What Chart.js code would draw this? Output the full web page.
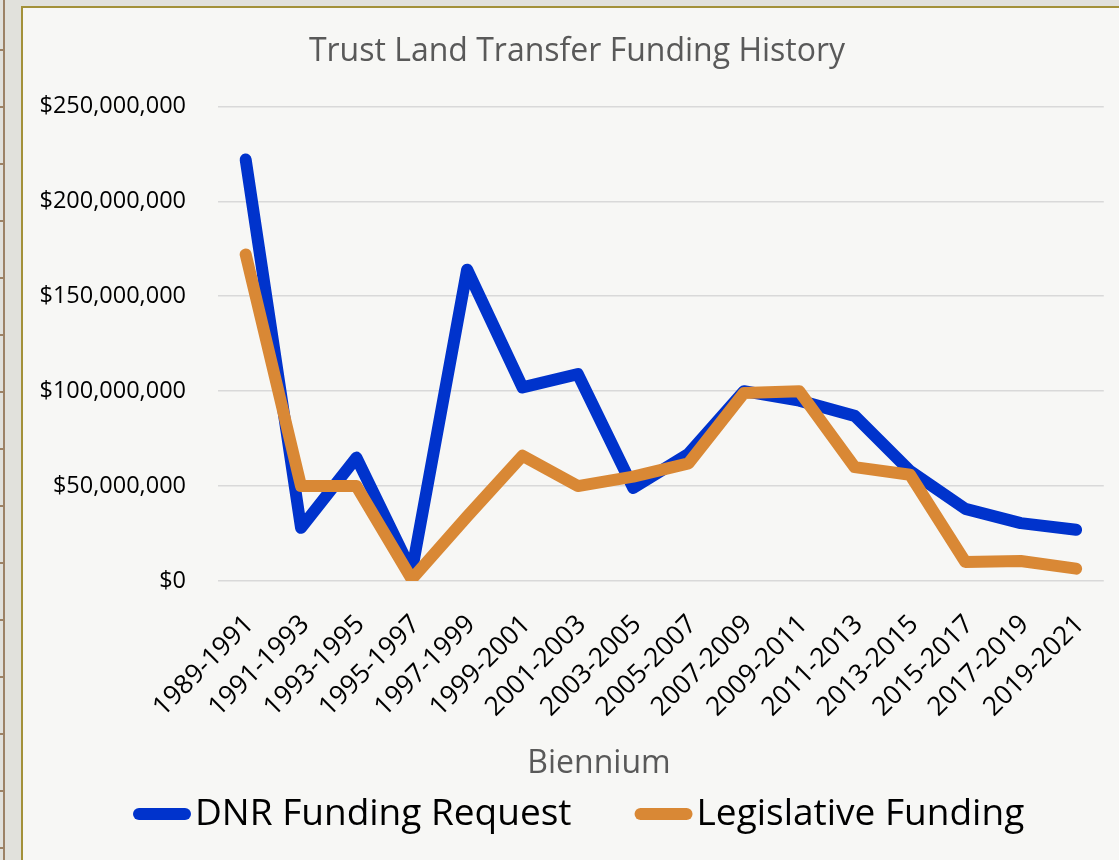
<!DOCTYPE html>
<html>
<head>
<meta charset="utf-8">
<script src="https://cdn.jsdelivr.net/npm/chart.js@4.4.0/dist/chart.umd.min.js"></script>
<style>
html, body { margin: 0; padding: 0; width: 1119px; height: 860px; overflow: hidden; background: #e1e1dc; }
#rule { position: absolute; left: 3px; top: 0; width: 2px; height: 860px; background: #9c8266; }
#ticks { position: absolute; left: 0; top: 0; width: 4px; height: 860px;
  background: repeating-linear-gradient(to bottom, transparent 0 49px, #9c8266 49px 51px, transparent 51px 57px); }
#box { position: absolute; left: 21px; top: 6px; width: 1096px; height: 852px;
  border-left: 2px solid #a39139; border-top: 2px solid #a39139; background: #f7f7f5; }
canvas { display: block; }
</style>
</head>
<body>
<div id="rule"></div>
<div id="ticks"></div>
<div id="box"><canvas id="chart" width="1096" height="852"></canvas></div>
<script>
// biennium labels
const bienniums = ['1989-1991', '1991-1993', '1993-1995', '1995-1997', '1997-1999', '1999-2001',
  '2001-2003', '2003-2005', '2005-2007', '2007-2009', '2009-2011', '2011-2013',
  '2013-2015', '2015-2017', '2017-2019', '2019-2021'];
// dollars
const dnrRequest = [222000000, 28000000, 65000000, 5000000, 164000000, 102000000,
  109000000, 49000000, 67000000, 100000000, 95000000, 87000000,
  58000000, 38000000, 30500000, 27000000];
const legislativeFunding = [172000000, 50000000, 50000000, 1000000, 34000000, 66000000,
  50000000, 55000000, 62000000, 99000000, 100000000, 60000000,
  56000000, 10000000, 10500000, 6500000];
const yTicksMax = 250000000;
const yStep = 50000000;

const FONT = '"Open Sans", "Noto Sans", sans-serif';

// axis title + legend drawn by hand (Excel-style placement)
const bottomLegend = {
    id: 'bottomLegend',
    afterDraw(chart) {
        const ctx = chart.ctx;
        ctx.save();
        ctx.textBaseline = 'middle';
        ctx.textAlign = 'center';
        ctx.fillStyle = '#595959';
        ctx.font = '32px ' + FONT;
        ctx.fillText('Biennium', 576, 756);

        ctx.font = '37px ' + FONT;
        ctx.textAlign = 'left';
        var x = 110, y = 806;
        chart.data.datasets.forEach(function(ds) {
            ctx.strokeStyle = ds.borderColor;
            ctx.lineWidth = 12;
            ctx.lineCap = 'round';
            ctx.beginPath();
            ctx.moveTo(x + 6, y);
            ctx.lineTo(x + 52, y);
            ctx.stroke();
            x += 62;
            ctx.fillStyle = '#000';
            ctx.fillText(ds.label, x, y);
            x += ctx.measureText(ds.label).width + 63;
        });
        ctx.restore();
    }
};

const ctx = document.getElementById('chart').getContext('2d');
new Chart(ctx, {
    type: 'line',
    data: {
        labels: bienniums,
        datasets: [{
            label: 'DNR Funding Request',
            data: dnrRequest,
            borderColor: '#0033cc',
            backgroundColor: '#0033cc',
            order: 1
        }, {
            label: 'Legislative Funding',
            data: legislativeFunding,
            borderColor: '#d98835',
            backgroundColor: '#d98835',
            order: 0
        }]
    },
    options: {
        responsive: false,
        devicePixelRatio: 1,
        animation: false,
        layout: {padding: {left: 12, right: 0, top: 0, bottom: 70}},
        elements: {
            line: {borderWidth: 12, tension: 0, borderCapStyle: 'round', borderJoinStyle: 'round'},
            point: {radius: 0, hoverRadius: 0}
        },
        plugins: {
            legend: {display: false},
            tooltip: {enabled: false},
            title: {
                display: true,
                text: 'Trust Land Transfer Funding History',
                color: '#595959',
                font: {family: FONT, size: 32, weight: 'normal'},
                padding: {top: 25, bottom: 35}
            }
        },
        scales: {
            x: {
                offset: true,
                grid: {display: false},
                border: {display: false},
                ticks: {
                    color: '#000',
                    font: {family: FONT, size: 26.5},
                    minRotation: 45,
                    maxRotation: 45,
                    autoSkip: false,
                    padding: 20,
                    labelOffset: 4
                },
                afterFit: function(scale) { scale.height = 209; }
            },
            y: {
                min: 0,
                max: yTicksMax,
                grid: {color: '#d9d9d9', lineWidth: 1.5, drawTicks: false},
                border: {display: false},
                ticks: {
                    stepSize: yStep,
                    color: '#000',
                    font: {family: FONT, size: 23.5},
                    padding: 32,
                    callback: function(v) { return '$' + v.toLocaleString('en-US'); }
                },
                afterFit: function(scale) { scale.width = 183; }
            },
            // empty right-hand strip, keeps the plot off the right edge
            yRight: {
                position: 'right',
                grid: {display: false},
                border: {display: false},
                ticks: {display: false},
                afterFit: function(scale) { scale.width = 13; }
            }
        }
    },
    plugins: [bottomLegend]
});
</script>
</body>
</html>
